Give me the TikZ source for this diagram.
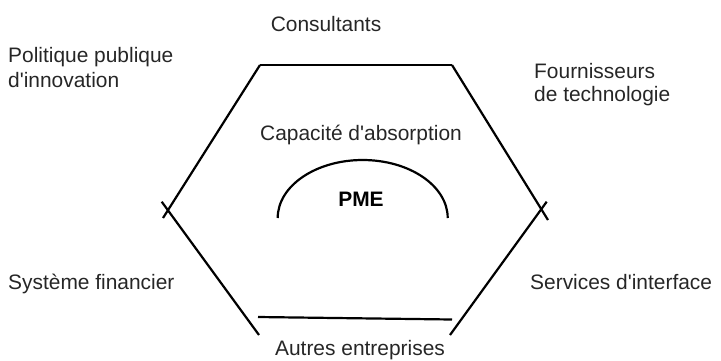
\documentclass[tikz,border=0pt]{standalone}
\usepackage{fontspec}
\setmainfont{Liberation Sans}
\newcommand{\apos}{\textquotesingle}
\begin{document}
\begin{tikzpicture}[x=1bp,y=-1bp,
  edge/.style={line width=2.2bp,line cap=butt},
  label/.style={inner sep=0pt,font=\fontsize{21}{25}\selectfont,text=black!85}]
\useasboundingbox (0,0) rectangle (721,360);

% hexagon corners and the crossings at the two side vertices
\coordinate (tl) at (260,65);
\coordinate (tr) at (452,65);
\coordinate (lx1) at (163,218);
\coordinate (lx2) at (161.7,201.7);
\coordinate (bl) at (259,335);
\coordinate (rx1) at (548,220);
\coordinate (rx2) at (546.7,201.7);
\coordinate (br) at (450,335);
\coordinate (bb1) at (258,317);
\coordinate (bb2) at (452,319.5);

\draw[edge] (tl) -- (tr);
\draw[edge] (tl) -- (lx1);
\draw[edge] (lx2) -- (bl);
\draw[edge] (tr) -- (rx1);
\draw[edge] (rx2) -- (br);
\draw[edge] (bb1) -- (bb2);

% firm boundary
\coordinate (arcL) at (277.7,218);
\draw[edge] (arcL) arc[start angle=180,end angle=0,x radius=85,y radius=-58];

% actors around the firm
\node[label,anchor=base] (cons) at (326,31.5) {Consultants};
\node[label,anchor=base west,align=left] (pol) at (8,87.3) {Politique publique\\d\apos innovation};
\node[label,anchor=base west,align=left,font=\fontsize{21}{23}\selectfont] (four) at (534,101.7) {Fournisseurs\\de technologie};
\node[label,anchor=base] (cap) at (361,140) {Capacité d\apos absorption};
\node[label,anchor=base,font=\fontsize{21}{25}\selectfont\bfseries,text=black] (pme) at (361,206.7) {PME};
\node[label,anchor=base west] (fin) at (8,289) {Système financier};
\node[label,anchor=base west] (serv) at (530,289) {Services d\apos interface};
\node[label,anchor=base] (autres) at (360,355) {Autres entreprises};
\end{tikzpicture}
\end{document}
